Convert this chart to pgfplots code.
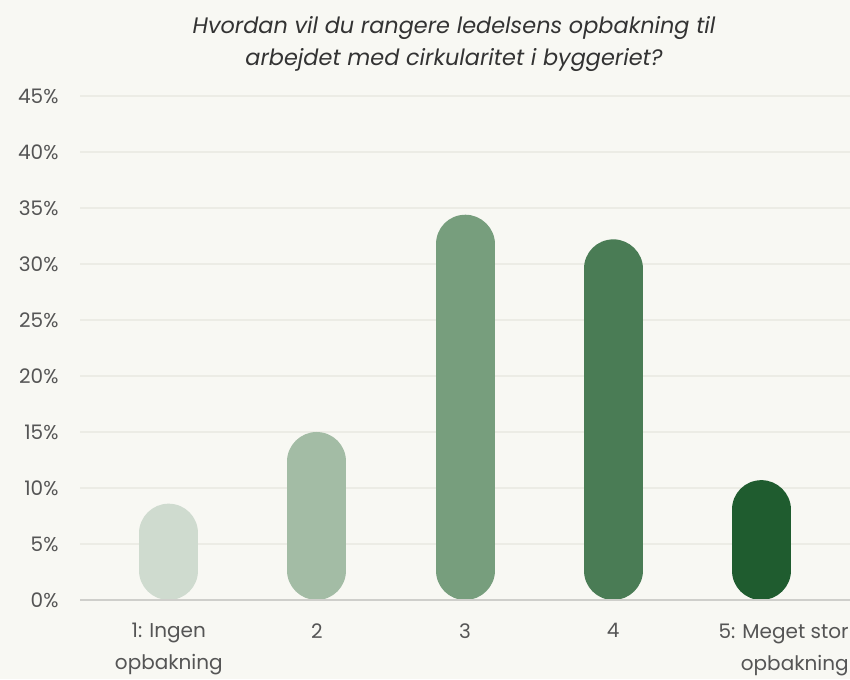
\documentclass[border=0pt]{standalone}
\usepackage{pgfplots}
\pgfplotsset{compat=1.18}
\usepackage{fontspec}
\setmainfont{Poppins}

\definecolor{bg}{HTML}{F8F8F3}
\definecolor{gridc}{HTML}{ECECE5}
\definecolor{basec}{HTML}{CFCFCB}
\definecolor{txt}{HTML}{555555}
\definecolor{titlec}{HTML}{333333}
\definecolor{g1}{HTML}{CFDBCF}
\definecolor{g2}{HTML}{A3BCA5}
\definecolor{g3}{HTML}{779E7D}
\definecolor{g4}{HTML}{4A7C55}
\definecolor{g5}{HTML}{1F5C2F}

\begin{document}
\begin{tikzpicture}
\useasboundingbox[fill=bg] (0pt,0pt) rectangle (850pt,679pt);
\node[align=center, text=titlec, font=\itshape\fontsize{22.4}{32}\selectfont]
  at (454pt,635pt) {Hvordan vil du rangere ledelsens opbakning til\\arbejdet med cirkularitet i byggeriet?};
\begin{axis}[
    at={(80pt,79pt)}, anchor=south west,
    scale only axis, width=770pt, height=504pt,
    xmin=-0.6, xmax=4.6, ymin=0, ymax=45,
    axis line style={draw=none},
    ytick={0,5,...,45},
    yticklabel={\pgfmathprintnumber{\tick}\%},
    /pgf/number format/assume math mode=true,
    ymajorgrids, major grid style={gridc, line width=1.5pt},
    major tick length=0pt,
    tick label style={text=txt, font=\fontsize{20}{32}\selectfont},
    yticklabel style={xshift=-18pt},
    xtick={0,1,2,3},
    xticklabels={{1: Ingen\\opbakning},2,3,4},
    xticklabel style={align=center, yshift=-20pt},
    extra x ticks={4},
    extra x tick labels={{5: Meget stor\\opbakning}},
    extra x tick style={xticklabel style={align=right, anchor=north east, xshift=91pt}},
]
\addplot[ycomb, draw=g1, line width=59pt, line cap=round, shorten <=29.5pt, shorten >=29.5pt] coordinates {(0,8.6)};
\addplot[ycomb, draw=g2, line width=59pt, line cap=round, shorten <=29.5pt, shorten >=29.5pt] coordinates {(1,15.0)};
\addplot[ycomb, draw=g3, line width=59pt, line cap=round, shorten <=29.5pt, shorten >=29.5pt] coordinates {(2,34.4)};
\addplot[ycomb, draw=g4, line width=59pt, line cap=round, shorten <=29.5pt, shorten >=29.5pt] coordinates {(3,32.2)};
\addplot[ycomb, draw=g5, line width=59pt, line cap=round, shorten <=29.5pt, shorten >=29.5pt] coordinates {(4,10.7)};
\draw[basec, line width=2pt] (rel axis cs:0,0) -- (rel axis cs:1,0);
\end{axis}
\end{tikzpicture}
\end{document}
